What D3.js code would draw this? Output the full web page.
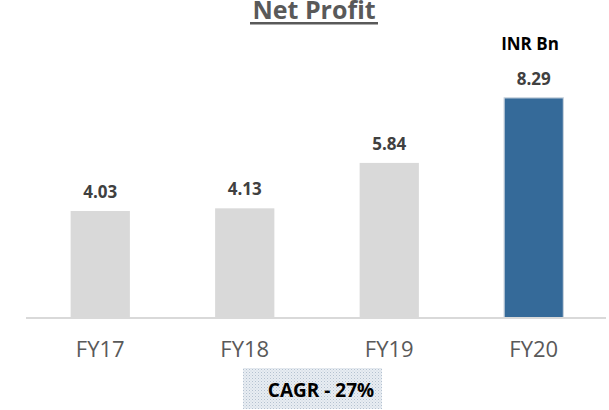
<!DOCTYPE html>
<html><head><meta charset="utf-8">
<script src="https://cdn.jsdelivr.net/npm/d3@7"></script>
<style>body{margin:0;background:#fff;}svg{display:block;}</style>
</head><body>
<svg id="c" width="609" height="410"></svg>
<script>
const categories = ["FY17", "FY18", "FY19", "FY20"];
const values = [4.03, 4.13, 5.84, 8.29];
const labels = ["4.03", "4.13", "5.84", "8.29"];
const title = "Net Profit";
const unitLabel = "INR Bn";
const cagrLabel = "CAGR - 27%";

const svg = d3.select("#c");
const font = "'Open Sans', sans-serif";

const x = d3.scaleBand().domain(categories).range([28, 606]).paddingInner(0.59).paddingOuter(0.295);
const y = d3.scaleLinear().domain([0, 9]).range([318, 79]);

// pattern for CAGR box
const defs = svg.append("defs");
const pat = defs.append("pattern").attr("id","dots").attr("width",3).attr("height",3).attr("patternUnits","userSpaceOnUse");
pat.append("rect").attr("width",3).attr("height",3).attr("fill","#e8edf2");
pat.append("rect").attr("width",1).attr("height",1).attr("fill","#b4c1d0");
pat.append("rect").attr("x",1.5).attr("y",1.5).attr("width",1).attr("height",1).attr("fill","#c8d3df");

// title
svg.append("text").attr("x", 314).attr("y", 19).attr("text-anchor","middle")
  .attr("font-family", font).attr("font-weight","bold").attr("font-size", 25)
  .attr("fill","#595959").text(title);
svg.append("rect").attr("x", 250).attr("y", 22).attr("width", 128).attr("height", 2.5).attr("fill","#595959");

// unit
svg.append("text").attr("x", 530).attr("y", 50).attr("text-anchor","middle")
  .attr("font-family", font).attr("font-weight","bold").attr("font-size", 17)
  .attr("fill","#000").text(unitLabel);

// bars
svg.selectAll("rect.bar").data(values).enter().append("rect").attr("class","bar")
  .attr("x", (d,i) => x(categories[i]))
  .attr("y", d => y(d))
  .attr("width", x.bandwidth())
  .attr("height", d => y(0) - y(d))
  .attr("fill", (d,i) => i === 3 ? "#356a99" : "#d9d9d9")
  .attr("stroke", (d,i) => i === 3 ? "#c9d3de" : "none")
  .attr("stroke-width", 1.2);

// axis line
svg.append("rect").attr("x", 26).attr("y", y(0) - 1).attr("width", 580).attr("height", 2).attr("fill","#d9d9d9");

// value labels
svg.selectAll("text.val").data(values).enter().append("text").attr("class","val")
  .attr("x", (d,i) => x(categories[i]) + x.bandwidth()/2)
  .attr("y", d => y(d) - 13)
  .attr("text-anchor","middle")
  .attr("font-family", font).attr("font-weight","bold").attr("font-size", 17)
  .attr("fill","#404040").text((d,i) => labels[i]);

// category labels
const xAxis = d3.axisBottom(x).tickSize(0).tickPadding(0);
const gx = svg.append("g").attr("transform", `translate(0,${y(0)})`).call(xAxis);
gx.select(".domain").remove();
gx.selectAll("text").attr("y", 39).attr("dy", 0)
  .attr("font-family", font).attr("font-size", 22).attr("fill","#595959");

// CAGR box
svg.append("rect").attr("x", 243).attr("y", 368).attr("width", 139).attr("height", 41).attr("fill","url(#dots)");
svg.append("text").attr("x", 321).attr("y", 397).attr("text-anchor","middle")
  .attr("font-family", font).attr("font-weight","bold").attr("font-size", 19)
  .attr("fill","#000").text(cagrLabel);
</script>
</body></html>
